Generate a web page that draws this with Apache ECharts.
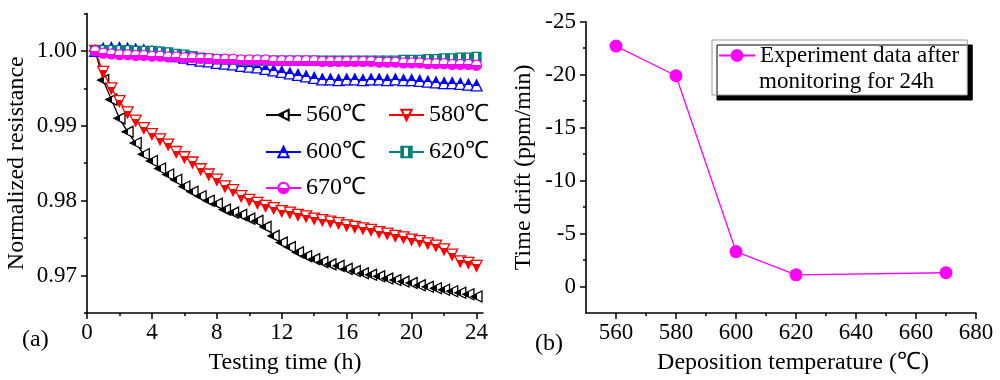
<!DOCTYPE html>
<html><head><meta charset="utf-8">
<script src="https://cdn.jsdelivr.net/npm/echarts@6/dist/echarts.min.js"></script>
<style>html,body{margin:0;padding:0;background:#fff}#c{width:1000px;height:380px}</style>
</head><body><div id="c"></div>
<script>
// ---------- data: panel (a) ----------
const hours = [0.5,1,1.5,2,2.5,3,3.5,4,4.5,5,5.5,6,6.5,7,7.5,8,8.5,9,9.5,10,10.5,11,11.5,12,
  12.5,13,13.5,14,14.5,15,15.5,16,16.5,17,17.5,18,18.5,19,19.5,20,20.5,21,21.5,22,22.5,23,23.5,24];
const r560 = [1.0000,0.9961,0.9935,0.9910,0.9892,0.9877,0.9862,0.9853,0.9843,0.9835,0.9828,0.9819,
  0.9812,0.9806,0.9800,0.9796,0.9788,0.9784,0.9781,0.9776,0.9773,0.9765,0.9753,0.9744,
  0.9738,0.9731,0.9726,0.9722,0.9718,0.9715,0.9713,0.9709,0.9706,0.9703,0.9701,0.9699,
  0.9696,0.9694,0.9692,0.9690,0.9687,0.9685,0.9683,0.9681,0.9679,0.9677,0.9675,0.9672];
const r580 = [1.0000,0.9972,0.9950,0.9933,0.9918,0.9907,0.9897,0.9889,0.9882,0.9875,0.9865,0.9858,
  0.9851,0.9842,0.9835,0.9828,0.9819,0.9814,0.9806,0.9801,0.9797,0.9793,0.9790,0.9786,
  0.9784,0.9781,0.9779,0.9776,0.9774,0.9772,0.9770,0.9767,0.9765,0.9763,0.9761,0.9758,
  0.9756,0.9753,0.9751,0.9748,0.9746,0.9743,0.9740,0.9735,0.9728,0.9719,0.9717,0.9713];
const r600 = [1.0000,1.0003,1.0004,1.0004,1.0003,1.0002,1.0001,0.9999,0.9998,0.9996,0.9993,0.9991,
  0.9989,0.9987,0.9986,0.9984,0.9983,0.9982,0.9980,0.9979,0.9978,0.9976,0.9974,0.9972,
  0.9970,0.9968,0.9966,0.9964,0.9962,0.9962,0.9961,0.9962,0.9962,0.9961,0.9962,0.9962,
  0.9961,0.9962,0.9961,0.9961,0.9960,0.9959,0.9958,0.9957,0.9957,0.9956,0.9955,0.9954];
const r620 = [1.0000,1.0001,1.0001,1.0001,1.0001,1.0000,1.0000,1.0000,0.9999,0.9998,0.9996,0.9995,
  0.9993,0.9991,0.9990,0.9989,0.9988,0.9988,0.9987,0.9987,0.9987,0.9987,0.9987,0.9987,
  0.9987,0.9987,0.9987,0.9987,0.9987,0.9987,0.9987,0.9987,0.9987,0.9987,0.9987,0.9987,
  0.9987,0.9987,0.9988,0.9988,0.9988,0.9989,0.9989,0.9990,0.9990,0.9991,0.9991,0.9992];
const r670 = [1.0000,0.9997,0.9996,0.9995,0.9995,0.9994,0.9994,0.9993,0.9993,0.9992,0.9992,0.9991,
  0.9991,0.9990,0.9990,0.9989,0.9989,0.9989,0.9988,0.9988,0.9988,0.9988,0.9987,0.9987,
  0.9987,0.9987,0.9987,0.9987,0.9986,0.9986,0.9986,0.9986,0.9986,0.9986,0.9986,0.9985,
  0.9985,0.9985,0.9984,0.9984,0.9984,0.9983,0.9983,0.9983,0.9982,0.9982,0.9982,0.9981];
const seriesNamesA = ['560℃','580℃','600℃','620℃','670℃'];
const xTicksA = [0,4,8,12,16,20,24];
const xMinorA = [2,6,10,14,18,22];
const yTicksA = [0.97,0.98,0.99,1.00];
const yMinorA = [0.965,0.975,0.985,0.995,1.005];

// ---------- data: panel (b) ----------
const temps = [560,580,600,620,670];
const drift = [-22.7,-19.9,-3.3,-1.1,-1.3];
const xTicksB = [560,580,600,620,640,660,680];
const xMinorB = [570,590,610,630,650,670];
const yTicksB = [-25,-20,-15,-10,-5,0];
const yMinorB = [-22.5,-17.5,-12.5,-7.5,-2.5];

const FONT = "Liberation Serif";
const chart = echarts.init(document.getElementById('c'), null, {renderer:'canvas'});

function grad(color, vertical, stops) {
  return {type:'linear', x:0, y:0, x2: vertical ? 0 : 1, y2: vertical ? 1 : 0,
    colorStops: stops.map(s => ({offset:s[0], color: s[1] ? color : '#ffffff'}))};
}
const styleA = [
  {color:'#000000', symbol:'triangle', rot:90,  size:11, fill: grad('#000000', true, [[0,1],[0.55,1],[0.55,0],[1,0]])},
  {color:'#ff0000', symbol:'triangle', rot:180, size:11, fill: grad('#ff0000', true, [[0,1],[0.62,1],[0.62,0],[1,0]])},
  {color:'#0000ff', symbol:'triangle', rot:0,   size:11, fill: grad('#0000ff', true, [[0,1],[0.55,1],[0.55,0],[1,0]])},
  {color:'#008080', symbol:'rect',     rot:0,   size:9, fill: grad('#008080', false, [[0,1],[0.3,1],[0.3,0],[0.6,0],[0.6,1],[1,1]])},
  {color:'#ff00ff', symbol:'circle',   rot:0,   size:10, fill: grad('#ff00ff', true, [[0,0],[0.5,0],[0.5,1],[1,1]])}
];
const valuesA = [r560, r580, r600, r620, r670];

const seriesA = valuesA.map((vals, k) => ({
  name: seriesNamesA[k], type:'line', xAxisIndex:0, yAxisIndex:0,
  data: hours.map((h,i) => [h, vals[i]]),
  symbol: styleA[k].symbol, symbolRotate: styleA[k].rot, symbolSize: styleA[k].size,
  showAllSymbol: true,
  lineStyle: {color: styleA[k].color, width: 1.3},
  itemStyle: {color: styleA[k].fill, borderColor: styleA[k].color, borderWidth: 1.3},
  z: 2 + k
}));

const seriesB = {
  name: 'Experiment data after monitoring for 24h', type:'line', xAxisIndex:2, yAxisIndex:2,
  data: temps.map((t,i) => [t, drift[i]]),
  symbol:'circle', symbolSize:13,
  lineStyle:{color:'#ff00ff', width:1.3},
  itemStyle:{color:'#ff00ff'}
};

function inList(list, v) { return list.some(t => Math.abs(t - v) < 1e-7); }
function labelStyle(margin, fmt) {
  return {show:true, margin, formatter: fmt, color:'#000', fontFamily: FONT, fontSize: 23};
}
function nameStyle(extra) {
  return Object.assign({color:'#000', fontFamily: FONT, fontSize:24}, extra || {});
}
function tickStyle(ticks, len) {
  return {show:true, customValues: ticks, length: len, lineStyle:{color:'#000', width:1.5}};
}
function majorX(grid, min, max, interval, ticks, name, fmt, extra) {
  return Object.assign({
    gridIndex: grid, type:'value', min, max, interval, position:'bottom',
    axisLine:{show:true, onZero:false, lineStyle:{color:'#000', width:1.6}},
    axisTick: tickStyle(ticks, 6),
    axisLabel: labelStyle(8, v => inList(ticks, v) ? fmt(v) : ''),
    splitLine:{show:false},
    name, nameLocation:'middle', nameGap:38, nameTextStyle: nameStyle()
  }, extra || {});
}
function minorX(grid, min, max, ticks) {
  return {gridIndex:grid, type:'value', min, max, position:'bottom',
    axisLine:{show:false, onZero:false}, axisLabel:{show:false}, splitLine:{show:false},
    axisTick: tickStyle(ticks, 3)};
}
function majorY(grid, min, max, interval, ticks, name, fmt, extra) {
  return Object.assign({
    gridIndex: grid, type:'value', min, max, interval, position:'left',
    axisLine:{show:true, onZero:false, lineStyle:{color:'#000', width:1.6}},
    axisTick: tickStyle(ticks, 6),
    axisLabel: labelStyle(10, v => inList(ticks, v) ? fmt(v) : ''),
    splitLine:{show:false},
    name, nameLocation:'middle', nameTextStyle: nameStyle()
  }, extra || {});
}
function minorY(grid, min, max, ticks, extra) {
  return Object.assign({gridIndex:grid, type:'value', min, max, position:'left',
    axisLine:{show:false, onZero:false}, axisLabel:{show:false}, splitLine:{show:false},
    axisTick: tickStyle(ticks, 3)}, extra || {});
}

const legendPos = [[265,103],[388,103],[265,140],[388,140],[265,176]];
const legendsA = seriesNamesA.map((n,k) => ({
  data:[n],
  left: legendPos[k][0], top: legendPos[k][1],
  orient:'horizontal', padding:0, itemWidth:35, itemHeight:13,
  textStyle:{color:'#000', fontFamily: FONT, fontSize: 24}, selectedMode:false
}));

const legendB = {
  data:['Experiment data after monitoring for 24h'], left:712, top:40,
  orient:'horizontal', padding:[4,8,28,6], itemWidth:36, itemHeight:16,
  formatter: () => 'Experiment data after',
  textStyle:{color:'#000', fontFamily: FONT, fontSize: 23}, selectedMode:false,
  backgroundColor:'#ffffff', borderColor:'#9a9a9a', borderWidth:1,
  shadowColor:'#000000', shadowBlur:0, shadowOffsetX:5, shadowOffsetY:5
};

const option = {
  animation:false,
  backgroundColor:'#ffffff',
  grid:[
    {left:87, top:13.5, width:396, height:303},
    {left:586, top:21.7, width:390, height:293.3}
  ],
  xAxis:[
    majorX(0, 0, 24.4, 4, xTicksA, 'Testing time (h)', v => String(v)),
    minorX(0, 0, 24.4, xMinorA),
    majorX(1, 550, 680, 10, xTicksB, 'Deposition temperature (℃)', v => String(v),
      {nameTextStyle: nameStyle({padding:[0,0,0,24]})}),
    minorX(1, 550, 680, xMinorB)
  ],
  yAxis:[
    majorY(0, 0.965, 1.005, 0.005, yTicksA, 'Normalized resistance', v => v.toFixed(2), {nameGap:58}),
    minorY(0, 0.965, 1.005, yMinorA),
    majorY(1, -25, 2.5, 2.5, yTicksB, 'Time drift (ppm/min)', v => String(v), {nameGap:50, inverse:true}),
    minorY(1, -25, 2.5, yMinorB, {inverse:true})
  ],
  legend: legendsA.concat([legendB]),
  series: seriesA.concat([seriesB]),
  graphic:[
    {type:'text', left:22, top:328, z:100, style:{text:'(a)', font:"24px 'Liberation Serif'", fill:'#000'}},
    {type:'text', left:535, top:332, z:100, style:{text:'(b)', font:"24px 'Liberation Serif'", fill:'#000'}},
    {type:'text', left:759, top:70, z:100, style:{text:'monitoring for 24h', font:"23px 'Liberation Serif'", fill:'#000'}}
  ]
};
chart.setOption(option);
</script></body></html>
